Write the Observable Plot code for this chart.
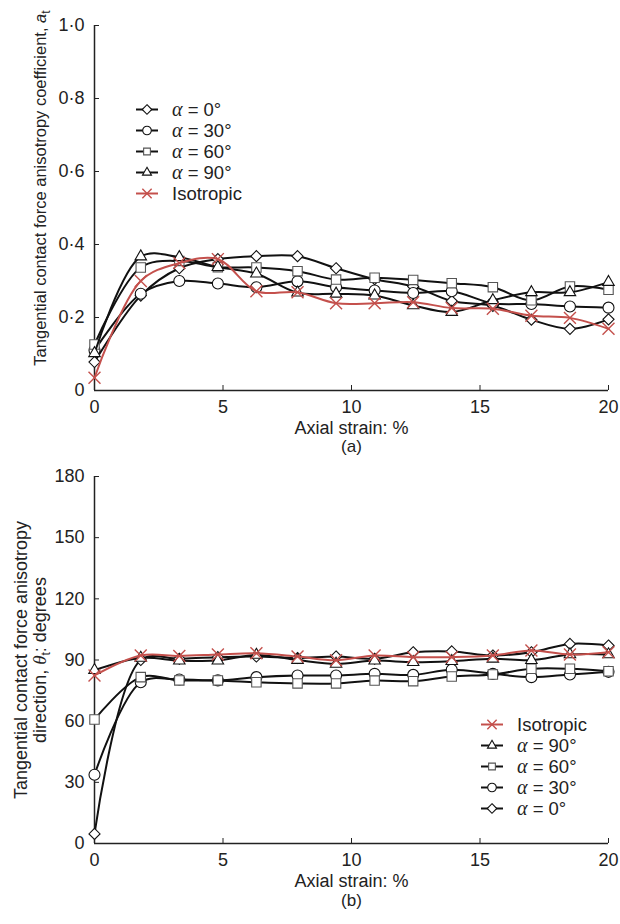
<!DOCTYPE html>
<html><head><meta charset="utf-8">
<script src="https://cdn.jsdelivr.net/npm/d3@7"></script>
<script src="https://cdn.jsdelivr.net/npm/@observablehq/plot@0.6"></script>
<style>
body{margin:0;background:#fff;font-family:"Liberation Sans",Arial,sans-serif;}
#wrap{position:relative;width:620px;height:924px;overflow:hidden;}
#wrap svg{display:block;}
.legend{position:absolute;font-size:18.5px;color:#222;line-height:19px;}
.row{display:flex;align-items:center;height:21px;white-space:nowrap;}
.row span{line-height:19px;}
.row svg{margin-right:14px;overflow:visible;}
.alpha{font-family:"Liberation Serif","DejaVu Serif",serif;font-style:italic;font-size:20px;}
</style></head><body><div id="wrap"></div>
<script>
// ---- data ----
const strain = [0, 1.8, 3.3, 4.8, 6.3, 7.9, 9.4, 10.9, 12.4, 13.9, 15.5, 17.0, 18.5, 20];
// (a) tangential contact force anisotropy coefficient a_t
const at0   = [0.078, 0.26, 0.335, 0.36, 0.368, 0.368, 0.335, 0.305, 0.285, 0.245, 0.232, 0.194, 0.169, 0.195];
const at30  = [0.11, 0.265, 0.30, 0.293, 0.283, 0.299, 0.283, 0.274, 0.267, 0.272, 0.239, 0.237, 0.23, 0.227];
const at60  = [0.126, 0.337, 0.355, 0.338, 0.337, 0.327, 0.304, 0.309, 0.303, 0.294, 0.283, 0.247, 0.285, 0.276];
const at90  = [0.102, 0.367, 0.365, 0.338, 0.32, 0.268, 0.265, 0.26, 0.233, 0.215, 0.247, 0.269, 0.269, 0.297];
const atIso = [0.035, 0.30, 0.349, 0.36, 0.272, 0.269, 0.239, 0.239, 0.242, 0.226, 0.224, 0.205, 0.199, 0.169];
// (b) tangential contact force anisotropy direction theta_t (degrees)
const th0   = [4.7, 90, 90.6, 91.4, 91.7, 91, 91.7, 90.6, 93.8, 94.2, 92.2, 93.8, 97.9, 97.1];
const th30  = [33.7, 79.1, 80.4, 80, 81.6, 82.4, 82.4, 83.2, 82.7, 85.2, 83.2, 81.6, 82.9, 84.2];
const th60  = [60.8, 81.6, 80, 80, 79.1, 78.5, 78.5, 79.9, 79.6, 81.9, 82.9, 85.7, 85.7, 84.5];
const th90  = [85, 91, 89.7, 89.7, 92.5, 90, 88.1, 89.7, 88.9, 89.4, 90.6, 89.9, 92.7, 92.7];
const thIso = [82.4, 92.2, 92, 92.7, 93.3, 91.7, 89.9, 92.2, 91.4, 91.4, 92.2, 94.7, 92.7, 93.8];

const seriesNames = ["α = 0°", "α = 30°", "α = 60°", "α = 90°", "Isotropic"];
const xTicks = [0, 5, 10, 15, 20];
const yTicksA = [0, 0.2, 0.4, 0.6, 0.8, 1.0];
const yTicksB = [0, 30, 60, 90, 120, 150, 180];
const xLabel = "Axial strain: %";
const panelA = "(a)", panelB = "(b)";

// ---- styles ----
const RED = "#c4504c", BLK = "#111";
const styles = [
  {symbol: "diamond2", stroke: BLK, r: 5},
  {symbol: "circle", stroke: BLK, r: 5.5},
  {symbol: "square2", stroke: "#555", r: 6},
  {symbol: "triangle2", stroke: BLK, r: 5.5},
  {symbol: "times", stroke: RED, r: 5.5}
];
const d3sym = {diamond2: d3.symbolDiamond2, circle: d3.symbolCircle, square2: d3.symbolSquare2, triangle2: d3.symbolTriangle2, times: d3.symbolTimes};

function tidy(vals) { return strain.map((x, i) => ({x, y: vals[i]})); }

function seriesMarks(valsList) {
  const marks = [];
  valsList.forEach((vals, i) => {
    const st = styles[i];
    const data = tidy(vals);
    marks.push(Plot.line(data, {x: "x", y: "y", curve: "catmull-rom", stroke: i === 4 ? RED : BLK, strokeWidth: 2}));
    marks.push(Plot.dot(data, {x: "x", y: "y", symbol: st.symbol, r: st.r,
      fill: st.symbol === "times" ? "none" : "white", stroke: st.stroke, strokeWidth: st.symbol === "times" ? 1.4 : 1.1}));
  });
  return marks;
}

const fmtA = d => d === 0 ? "0" : d3.format(".1f")(d).replace(".", "·");
const W = 620;
const common = {
  width: W, marginLeft: 94, marginRight: 12,
  style: {fontFamily: "'Liberation Sans', Arial, sans-serif", fontSize: "18px", color: "#222", background: "white"},
  x: {domain: [0, 20]}
};

function axes(yTicks, fmt) {
  return [
    Plot.axisX(xTicks, {anchor: "bottom", tickSize: 5, dy: -5, tickPadding: 10, fontSize: 18, label: null, stroke: "#222"}),
    Plot.axisY(yTicks, {anchor: "left", tickSize: 5, dx: 5, tickPadding: 10, fontSize: 18, label: null, tickFormat: fmt, stroke: "#222"}),
    Plot.ruleX([0], {stroke: "#222", strokeWidth: 1.5}),
    Plot.ruleY([0], {stroke: "#222", strokeWidth: 1.5}),
    Plot.text([xLabel], {text: d => d, frameAnchor: "bottom", dy: 38, lineAnchor: "middle", fontSize: 18, fill: "#222"})
  ];
}

const plotA = Plot.plot({
  ...common, height: 464, marginTop: 25, marginBottom: 74,
  y: {domain: [0, 1]},
  marks: [
    ...axes(yTicksA, fmtA),
    Plot.text([panelA], {text: d => d, frameAnchor: "bottom", dy: 56, lineAnchor: "middle", fontSize: 17, fill: "#222"}),
    ...seriesMarks([at0, at30, at60, at90, atIso])
  ]
});

const plotB = Plot.plot({
  ...common, height: 460, marginTop: 12, marginBottom: 81,
  y: {domain: [0, 180]},
  marks: [
    ...axes(yTicksB, d => String(d)),
    Plot.text([panelB], {text: d => d, frameAnchor: "bottom", dy: 57, lineAnchor: "middle", fontSize: 17, fill: "#222"}),
    ...seriesMarks([th0, th30, th60, th90, thIso])
  ]
});

const wrap = document.getElementById("wrap");
wrap.appendChild(plotA);
wrap.appendChild(plotB);

// y-axis titles with italic symbols and subscripts
d3.select(plotA).append("text")
  .attr("transform", "translate(46,188) rotate(-90)")
  .attr("text-anchor", "middle").attr("font-size", 16.5).attr("fill", "#222")
  .call(t => {
    t.append("tspan").text("Tangential contact force anisotropy coefficient, ");
    t.append("tspan").attr("font-style", "italic").text("a");
    t.append("tspan").attr("font-size", 12).attr("dy", 4).text("t");
  });
const gB = d3.select(plotB);
// bottom svg starts at y=464; axis centre at 659.5
gB.append("text")
  .attr("transform", "translate(27,196) rotate(-90)")
  .attr("text-anchor", "middle").attr("font-size", 18).attr("fill", "#222")
  .text("Tangential contact force anisotropy");
gB.append("text")
  .attr("transform", "translate(46,196) rotate(-90)")
  .attr("text-anchor", "middle").attr("font-size", 18).attr("fill", "#222")
  .call(t => {
    t.append("tspan").text("direction, ");
    t.append("tspan").attr("font-family", "'Liberation Serif', serif").attr("font-style", "italic").attr("font-size", 19).text("θ");
    t.append("tspan").attr("font-size", 12).attr("dy", 4).text("t");
    t.append("tspan").attr("dy", -4).text(": degrees");
  });

// legends
function legend(order, left, top) {
  const div = document.createElement("div");
  div.className = "legend";
  div.style.left = left + "px";
  div.style.top = top + "px";
  order.forEach(i => {
    const st = styles[i];
    const row = document.createElement("div");
    row.className = "row";
    const s = d3.create("svg").attr("width", 22).attr("height", 21);
    s.append("line").attr("x1", 0).attr("x2", 22).attr("y1", 10.5).attr("y2", 10.5)
      .attr("stroke", i === 4 ? RED : BLK).attr("stroke-width", 2);
    s.append("path").attr("transform", "translate(11,10.5)")
      .attr("d", d3.symbol(d3sym[st.symbol], Math.PI * 4.3 * 4.3)())
      .attr("fill", st.symbol === "times" ? "none" : "white")
      .attr("stroke", st.stroke).attr("stroke-width", st.symbol === "times" ? 1.4 : 1.1);
    row.appendChild(s.node());
    const label = document.createElement("span");
    const name = seriesNames[i];
    if (name.startsWith("α")) {
      label.innerHTML = '<span class="alpha">α</span>&nbsp;=&nbsp;' + name.split("= ")[1];
    } else label.textContent = name;
    row.appendChild(label);
    div.appendChild(row);
  });
  wrap.appendChild(div);
}
legend([0, 1, 2, 3, 4], 136, 99);
legend([4, 3, 2, 1, 0], 481, 714);
</script></body></html>
